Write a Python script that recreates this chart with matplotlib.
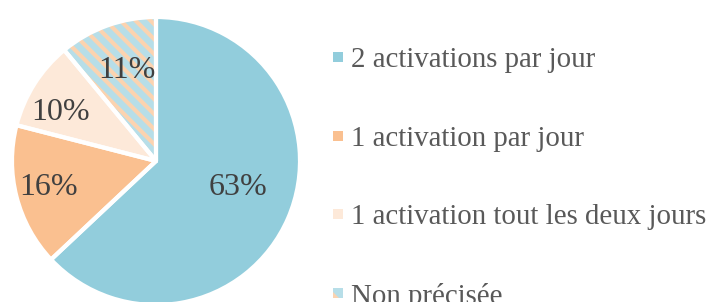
import matplotlib
matplotlib.use("Agg")
import matplotlib.pyplot as plt
from matplotlib.patches import Wedge, Rectangle
import numpy as np

labels = ["2 activations par jour", "1 activation par jour",
          "1 activation tout les deux jours", "Non précisée"]
values = [63, 16, 10, 11]
pct_labels = ["63%", "16%", "10%", "11%"]

colors = ["#92CDDC", "#FAC090", "#FDE9D9", "#B7DEE8"]
hatched = [False, False, False, True]
hatch_color = "#FBD3B0"
label_r = [0.60, 0.765, 0.74, 0.66]
label_dtheta = [5.8, -0.7, 5.4, -2.0]

plt.rcParams["font.family"] = ["Liberation Serif", "DejaVu Serif"]

W, H = 714, 302
fig = plt.figure(figsize=(W / 100, H / 100), dpi=100)
cx, cy, R = 156, 161, 144
ax = fig.add_axes([(cx - R) / W, (H - cy - R) / H, 2 * R / W, 2 * R / H])

wedges, _ = ax.pie(values, colors=colors, startangle=90, counterclock=False,
                   radius=1.0, center=(0, 0), frame=False)
ax.set_xlim(-1, 1)
ax.set_ylim(-1, 1)
ax.set_aspect("equal")
ax.axis("off")

period = 15.0 / R  # horizontal stripe spacing in data units
for w, hflag in zip(wedges, hatched):
    w.set_edgecolor("none")
    w.set_linewidth(0)
    if hflag:
        xs = np.array([-1.2, 1.2])
        for c in np.arange(-2.5, 2.5, period):
            ln, = ax.plot(xs, -xs + c, color=hatch_color, linewidth=3.0,
                          solid_capstyle="butt", zorder=3)
            ln.set_clip_path(w)

for w in wedges:
    ax.add_patch(Wedge((0, 0), 1.0, w.theta1, w.theta2, facecolor="none",
                       edgecolor="white", linewidth=3, zorder=4,
                       joinstyle="round"))

for w, t, r, dt in zip(wedges, pct_labels, label_r, label_dtheta):
    mid = np.deg2rad((w.theta1 + w.theta2) / 2 + dt)
    ax.text(r * np.cos(mid), r * np.sin(mid), t, ha="center", va="center",
            fontsize=23, color="#404040", zorder=5)

# legend
ys = [57, 136, 214, 293]
for lab, col, hflag, y in zip(labels, colors, hatched, ys):
    x0, s = 333, 10
    rect = Rectangle((x0 / W, (H - y - s / 2) / H), s / W, s / H,
                     transform=fig.transFigure, facecolor=col,
                     edgecolor="none", linewidth=0)
    fig.add_artist(rect)
    if hflag:
        tri = plt.Polygon([(x0 / W, (H - y - s / 2) / H),
                           (x0 / W, (H - y + 1) / H),
                           ((x0 + 6) / W, (H - y - s / 2) / H)],
                          closed=True, transform=fig.transFigure,
                          facecolor=hatch_color, edgecolor="none")
        fig.add_artist(tri)
    fig.text(351 / W, (H - y) / H, lab, ha="left", va="center_baseline",
             fontsize=20.8, color="#595959")

fig.savefig("out.png", dpi=100)
